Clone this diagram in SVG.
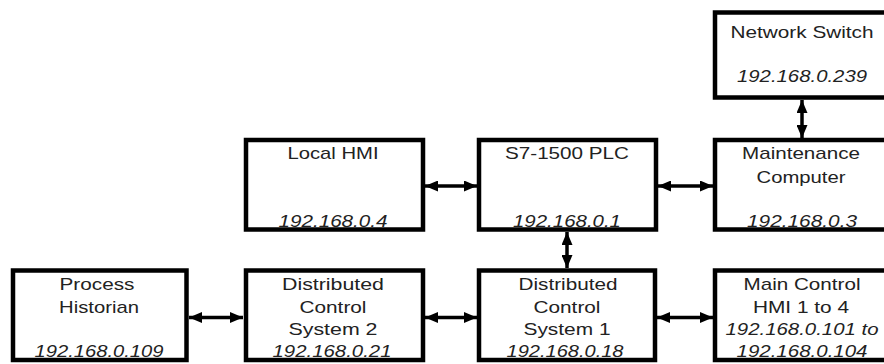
<svg xmlns="http://www.w3.org/2000/svg" width="884" height="364" viewBox="0 0 884 364">
<style>
.box{fill:#fff;stroke:#000;stroke-width:4.5}
text{font-family:"Liberation Sans",Arial,sans-serif;font-size:17px;fill:#222;text-anchor:middle}
.ip{font-style:italic}
.con{stroke:#000;stroke-width:3.5;fill:none;marker-start:url(#ah);marker-end:url(#ah)}
</style>
<defs>
<marker id="ah" markerUnits="userSpaceOnUse" markerWidth="13" markerHeight="11" refX="13" refY="5.5" orient="auto-start-reverse" viewBox="0 0 13 11">
<path d="M0,0 L13,5.5 L0,11 z" fill="#000"/>
</marker>
</defs>
<rect width="884" height="364" fill="#fff"/>
<g id="connectors">
<line class="con" x1="802" y1="100" x2="802" y2="138"/>
<line class="con" x1="425" y1="186" x2="477" y2="186"/>
<line class="con" x1="658" y1="186" x2="713" y2="186"/>
<line class="con" x1="567" y1="232" x2="567" y2="268"/>
<line class="con" x1="189" y1="317.5" x2="243" y2="317.5"/>
<line class="con" x1="425" y1="317.5" x2="477" y2="317.5"/>
<line class="con" x1="657" y1="317.5" x2="713" y2="317.5"/>
</g>
<g id="network-switch">
<rect class="box" x="715" y="12.5" width="178" height="85"/>
<text x="802" y="38" textLength="143" lengthAdjust="spacingAndGlyphs">Network Switch</text>
<text class="ip" x="802" y="82" textLength="130" lengthAdjust="spacingAndGlyphs">192.168.0.239</text>
</g>
<g id="local-hmi">
<rect class="box" x="246" y="140" width="177" height="89.5"/>
<text x="333" y="159" textLength="91" lengthAdjust="spacingAndGlyphs">Local HMI</text>
<text class="ip" x="333" y="227" textLength="109" lengthAdjust="spacingAndGlyphs">192.168.0.4</text>
</g>
<g id="plc">
<rect class="box" x="479" y="140" width="177" height="89.5"/>
<text x="567" y="159" textLength="124" lengthAdjust="spacingAndGlyphs">S7-1500 PLC</text>
<text class="ip" x="567" y="227" textLength="108" lengthAdjust="spacingAndGlyphs">192.168.0.1</text>
</g>
<g id="maintenance-computer">
<rect class="box" x="715" y="140" width="178" height="89.5"/>
<text x="801" y="159" textLength="118" lengthAdjust="spacingAndGlyphs">Maintenance</text>
<text x="801" y="183" textLength="89" lengthAdjust="spacingAndGlyphs">Computer</text>
<text class="ip" x="802" y="227" textLength="110" lengthAdjust="spacingAndGlyphs">192.168.0.3</text>
</g>
<g id="process-historian">
<rect class="box" x="13" y="270.5" width="173.5" height="89.5"/>
<text x="97" y="290" textLength="75" lengthAdjust="spacingAndGlyphs">Process</text>
<text x="99" y="313" textLength="80" lengthAdjust="spacingAndGlyphs">Historian</text>
<text class="ip" x="99" y="357" textLength="129" lengthAdjust="spacingAndGlyphs">192.168.0.109</text>
</g>
<g id="dcs2">
<rect class="box" x="246" y="270.5" width="177" height="89.5"/>
<text x="333" y="290" textLength="102" lengthAdjust="spacingAndGlyphs">Distributed</text>
<text x="333" y="313" textLength="67" lengthAdjust="spacingAndGlyphs">Control</text>
<text x="333" y="335" textLength="89" lengthAdjust="spacingAndGlyphs">System 2</text>
<text class="ip" x="332" y="357" textLength="119" lengthAdjust="spacingAndGlyphs">192.168.0.21</text>
</g>
<g id="dcs1">
<rect class="box" x="479" y="270.5" width="176" height="89.5"/>
<text x="568" y="290" textLength="99" lengthAdjust="spacingAndGlyphs">Distributed</text>
<text x="567" y="313" textLength="67" lengthAdjust="spacingAndGlyphs">Control</text>
<text x="567" y="335" textLength="87" lengthAdjust="spacingAndGlyphs">System 1</text>
<text class="ip" x="565" y="357" textLength="117" lengthAdjust="spacingAndGlyphs">192.168.0.18</text>
</g>
<g id="main-control-hmi">
<rect class="box" x="715" y="270.5" width="178" height="89.5"/>
<text x="802" y="290" textLength="117" lengthAdjust="spacingAndGlyphs">Main Control</text>
<text x="801" y="313" textLength="96" lengthAdjust="spacingAndGlyphs">HMI 1 to 4</text>
<text class="ip" x="802" y="335" textLength="153" lengthAdjust="spacingAndGlyphs">192.168.0.101 to</text>
<text class="ip" x="802" y="357" textLength="131" lengthAdjust="spacingAndGlyphs">192.168.0.104</text>
</g>
</svg>
